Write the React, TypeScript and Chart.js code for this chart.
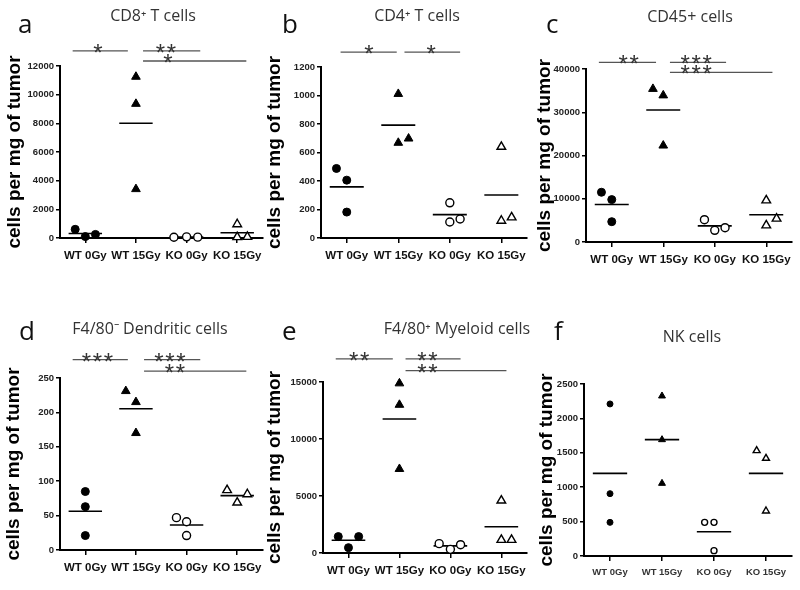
import React, { useEffect, useRef } from "react";
import { Chart, registerables } from "chart.js";

Chart.register(...registerables);

// ---------- data ----------
const groups = ["WT 0Gy", "WT 15Gy", "KO 0Gy", "KO 15Gy"];
const yAxisTitle = "cells per mg of tumor";

// (a) CD8+ T cells: values per group
const cd8Values = [
  [607, 100, 250],
  [11250, 9360, 3410],
  [50, 80, 60],
  [960, 60, 80],
];
const cd8Jitter = [
  [-0.2, 0, 0.2],
  [0, 0, 0],
  [-0.25, 0, 0.22],
  [0, 0, 0.2],
];
const cd8Ticks = [0, 12000, 2000];

// (b) CD4+ T cells
const cd4Values = [
  [488, 406, 182],
  [1011, 668, 698],
  [247, 112, 133],
  [640, 121, 145],
];
const cd4Jitter = [
  [-0.2, 0, 0],
  [0, 0, 0.2],
  [0, 0, 0.2],
  [0, 0, 0.2],
];
const cd4Ticks = [0, 1200, 200];

// (c) CD45+ cells
const cd45Values = [
  [11500, 9800, 4700],
  [35400, 33900, 22300],
  [5160, 2700, 3310],
  [9630, 3850, 5400],
];
const cd45Jitter = [
  [-0.2, 0, 0],
  [-0.2, 0, 0],
  [-0.2, 0, 0.2],
  [0, 0, 0.2],
];
const cd45Ticks = [0, 40000, 10000];

// (d) F4/80- dendritic cells
const dcValues = [
  [85, 63, 21],
  [231, 215, 170],
  [47, 41, 21],
  [87, 69, 81],
];
const dcJitter = [
  [0, 0, 0],
  [-0.2, 0, 0],
  [-0.2, 0, 0],
  [-0.2, 0, 0.2],
];
const dcTicks = [0, 250, 50];

// (e) F4/80+ myeloid cells
const myeValues = [
  [1440, 470, 1440],
  [14880, 13000, 7370],
  [820, 320, 730],
  [4600, 1150, 1150],
];
const myeJitter = [
  [-0.2, 0, 0.2],
  [0, 0, 0],
  [-0.22, 0, 0.2],
  [0, 0, 0.2],
];
const myeTicks = [0, 15000, 5000];

// (f) NK cells
const nkValues = [
  [2210, 906, 489],
  [2326, 1691, 1056],
  [489, 489, 78],
  [1531, 1420, 654],
];
const nkJitter = [
  [0, 0, 0],
  [0, 0, 0],
  [-0.18, 0, 0],
  [-0.18, 0, 0],
];
const nkTicks = [0, 2500, 500];

// significance annotations: [fromGroup, toGroup, yValue, label, labelAt]
const cd8Sig: [number, number, number, string, number][] = [
  [0.75, 1.84, 13050, "*", 1.25],
  [2.14, 3.27, 13050, "**", 2.59],
  [2.14, 4.18, 12350, "*", 2.63],
];
const cd4Sig: [number, number, number, string, number][] = [
  [0.88, 1.97, 1305, "*", 1.43],
  [2.12, 3.2, 1305, "*", 2.64],
];
const cd45Sig: [number, number, number, string, number][] = [
  [0.75, 1.86, 41540, "**", 1.33],
  [2.13, 3.22, 41540, "***", 2.64],
  [2.13, 4.12, 39230, "***", 2.64],
];
const dcSig: [number, number, number, string, number][] = [
  [0.75, 1.84, 276.6, "***", 1.24],
  [2.16, 3.27, 276.6, "***", 2.67],
  [2.16, 4.18, 260, "**", 2.77],
];
const myeSig: [number, number, number, string, number][] = [
  [0.75, 1.87, 17020, "**", 1.21],
  [2.12, 3.2, 17020, "**", 2.55],
  [2.12, 4.1, 15990, "**", 2.55],
];
const nkSig: [number, number, number, string, number][] = [];

// ---------- layout / style ----------
type Frame = { x0: number; y0: number; w: number; h: number; L: number; T: number; R: number; B: number };
type Spec = {
  letter: string;
  title: string;
  values: number[][];
  jitter: number[][];
  ticks: number[];
  sig: [number, number, number, string, number][];
  frame: Frame;
  yTitleX: number;
  titleX: number;
  titleY: number;
  letterX: number;
  letterY: number;
  small?: boolean;
};

const panels: Spec[] = [
  {
    letter: "a", title: "CD8⁺ T cells", values: cd8Values, jitter: cd8Jitter, ticks: cd8Ticks, sig: cd8Sig,
    frame: { x0: 0, y0: 0, w: 268, h: 290, L: 60, T: 66, R: 264, B: 238 },
    yTitleX: 15, titleX: 153, titleY: 21, letterX: 18, letterY: 33,
  },
  {
    letter: "b", title: "CD4⁺ T cells", values: cd4Values, jitter: cd4Jitter, ticks: cd4Ticks, sig: cd4Sig,
    frame: { x0: 262, y0: 0, w: 270, h: 290, L: 321, T: 67, R: 529, B: 238 },
    yTitleX: 275, titleX: 417, titleY: 21, letterX: 282, letterY: 33,
  },
  {
    letter: "c", title: "CD45+ cells", values: cd45Values, jitter: cd45Jitter, ticks: cd45Ticks, sig: cd45Sig,
    frame: { x0: 525, y0: 0, w: 275, h: 290, L: 586, T: 69, R: 792, B: 242 },
    yTitleX: 545, titleX: 690, titleY: 22, letterX: 546, letterY: 33,
  },
  {
    letter: "d", title: "F4/80⁻ Dendritic cells", values: dcValues, jitter: dcJitter, ticks: dcTicks, sig: dcSig,
    frame: { x0: 0, y0: 295, w: 268, h: 295, L: 60, T: 378, R: 264, B: 550 },
    yTitleX: 14, titleX: 150, titleY: 334, letterX: 19, letterY: 340,
  },
  {
    letter: "e", title: "F4/80⁺ Myeloid cells", values: myeValues, jitter: myeJitter, ticks: myeTicks, sig: myeSig,
    frame: { x0: 262, y0: 295, w: 270, h: 295, L: 323, T: 382, R: 529, B: 553 },
    yTitleX: 275, titleX: 457, titleY: 334, letterX: 282, letterY: 340,
  },
  {
    letter: "f", title: "NK cells", values: nkValues, jitter: nkJitter, ticks: nkTicks, sig: nkSig,
    frame: { x0: 525, y0: 295, w: 275, h: 295, L: 584, T: 384, R: 792, B: 556 },
    yTitleX: 547, titleX: 692, titleY: 342, letterX: 554, letterY: 340, small: true,
  },
];

const groupStyles = [
  { shape: "circle", fill: "#000", extra: 0 },
  { shape: "triangle", fill: "#000", extra: 1 },
  { shape: "circle", fill: "#fff", extra: 0 },
  { shape: "triangle", fill: "#fff", extra: 1 },
];

const SANS = '"Liberation Sans", Arial, sans-serif';
const X_AXIS_H = 30;

function Panel({ p }: { p: Spec }) {
  const ref = useRef<HTMLCanvasElement>(null);

  useEffect(() => {
    const canvas = ref.current;
    if (!canvas) return;
    const { x0, y0, w, h, L, T, R, B } = p.frame;
    const baseR = p.small ? 3 : 4;

    const datasets: any[] = [];
    p.values.forEach((vals, g) => {
      const st = groupStyles[g];
      datasets.push({
        type: "scatter",
        data: vals.map((v, i) => ({ x: g + 1 + p.jitter[g][i], y: v })),
        pointStyle: st.shape,
        pointRadius: baseR + st.extra,
        pointHoverRadius: baseR + st.extra,
        backgroundColor: st.fill,
        borderColor: "#000",
        borderWidth: st.fill === "#fff" ? 1.4 : 1,
        order: 0,
        clip: false,
      });
    });
    p.values.forEach((vals, g) => {
      const mean = vals.reduce((a, b) => a + b, 0) / vals.length;
      datasets.push({
        type: "line",
        data: [
          { x: g + 1 - 0.33, y: mean },
          { x: g + 1 + 0.33, y: mean },
        ],
        borderColor: "#000",
        borderWidth: 1.6,
        pointRadius: 0,
        showLine: true,
        order: 1,
      });
    });
    p.sig.forEach((s) => {
      datasets.push({
        type: "line",
        data: [
          { x: s[0], y: s[2] },
          { x: s[1], y: s[2] },
        ],
        borderColor: "#555",
        borderWidth: 1.3,
        pointRadius: 0,
        showLine: true,
        clip: false,
        order: 2,
      });
    });

    const textPlugin = {
      id: "panelText",
      afterDraw(chart: any) {
        const ctx = chart.ctx;
        ctx.save();
        ctx.textBaseline = "alphabetic";
        ctx.fillStyle = "#111";
        ctx.textAlign = "left";
        ctx.font = '26px "Open Sans", sans-serif';
        ctx.fillText(p.letter, p.letterX - x0, p.letterY - y0);
        ctx.fillStyle = "#333";
        ctx.textAlign = "center";
        ctx.font = '16px "Open Sans", sans-serif';
        ctx.fillText(p.title, p.titleX - x0, p.titleY - y0);
        const xs = chart.scales.x;
        const ys = chart.scales.y;
        ctx.font = '24px "Liberation Sans", Arial, sans-serif';
        ctx.fillStyle = "#333";
        p.sig.forEach((s) => {
          const n = s[3].length;
          const cx = xs.getPixelForValue(s[4]);
          const cy = ys.getPixelForValue(s[2]);
          for (let i = 0; i < n; i++) {
            ctx.fillText("*", cx + (i - (n - 1) / 2) * 11, cy + 10);
          }
        });
        ctx.restore();
      },
    };

    const yTitleSize = 19;
    const yTitlePad = p.yTitleX - x0 - (yTitleSize * 1.2) / 2;

    const chart = new Chart(canvas, {
      type: "scatter",
      data: { datasets },
      plugins: [textPlugin],
      options: {
        animation: false,
        responsive: false,
        devicePixelRatio: 1,
        events: [],
        layout: {
          autoPadding: false,
          padding: { left: 0, top: T - y0, right: x0 + w - R, bottom: y0 + h - B - X_AXIS_H },
        },
        plugins: { legend: { display: false }, tooltip: { enabled: false }, title: { display: false } },
        scales: {
          x: {
            type: "linear",
            min: 0.5,
            max: 4.5,
            afterBuildTicks: (s: any) => {
              s.ticks = groups.map((_, i) => ({ value: i + 1 }));
            },
            afterFit: (s: any) => {
              s.height = X_AXIS_H;
            },
            border: { display: true, color: "#000", width: 2 },
            grid: { drawOnChartArea: false, drawTicks: true, tickLength: 5, color: "#000", lineWidth: 1.5 },
            ticks: {
              autoSkip: false,
              maxRotation: 0,
              padding: 6,
              color: p.small ? "#333" : "#111",
              font: { family: SANS, weight: "bold", size: p.small ? 9.5 : 11.5 },
              callback: (v: any) => groups[Math.round(Number(v)) - 1] ?? "",
            },
          },
          y: {
            min: p.ticks[0],
            max: p.ticks[1],
            afterFit: (s: any) => {
              s.width = L - x0;
            },
            border: { display: true, color: "#000", width: 2 },
            grid: { drawOnChartArea: false, drawTicks: true, tickLength: 4, color: "#000", lineWidth: 1.5 },
            ticks: {
              stepSize: p.ticks[2],
              padding: 2,
              color: "#222",
              font: { family: SANS, weight: "bold", size: 9.5 },
              callback: (v: any) => String(v),
            },
            title: {
              display: true,
              text: yAxisTitle,
              color: "#000",
              font: { family: SANS, weight: "bold", size: yTitleSize },
              padding: { top: yTitlePad, bottom: 0 },
            },
          },
        },
      } as any,
    });
    return () => chart.destroy();
  }, [p]);

  const { x0, y0, w, h } = p.frame;
  return (
    <canvas
      ref={ref}
      width={w}
      height={h}
      style={{ position: "absolute", left: x0, top: y0, width: w, height: h }}
    />
  );
}

export default function App() {
  return (
    <div style={{ position: "absolute", left: 0, top: 0, width: 800, height: 590, background: "#fff", overflow: "hidden" }}>
      {panels.map((p) => (
        <Panel key={p.letter} p={p} />
      ))}
    </div>
  );
}
